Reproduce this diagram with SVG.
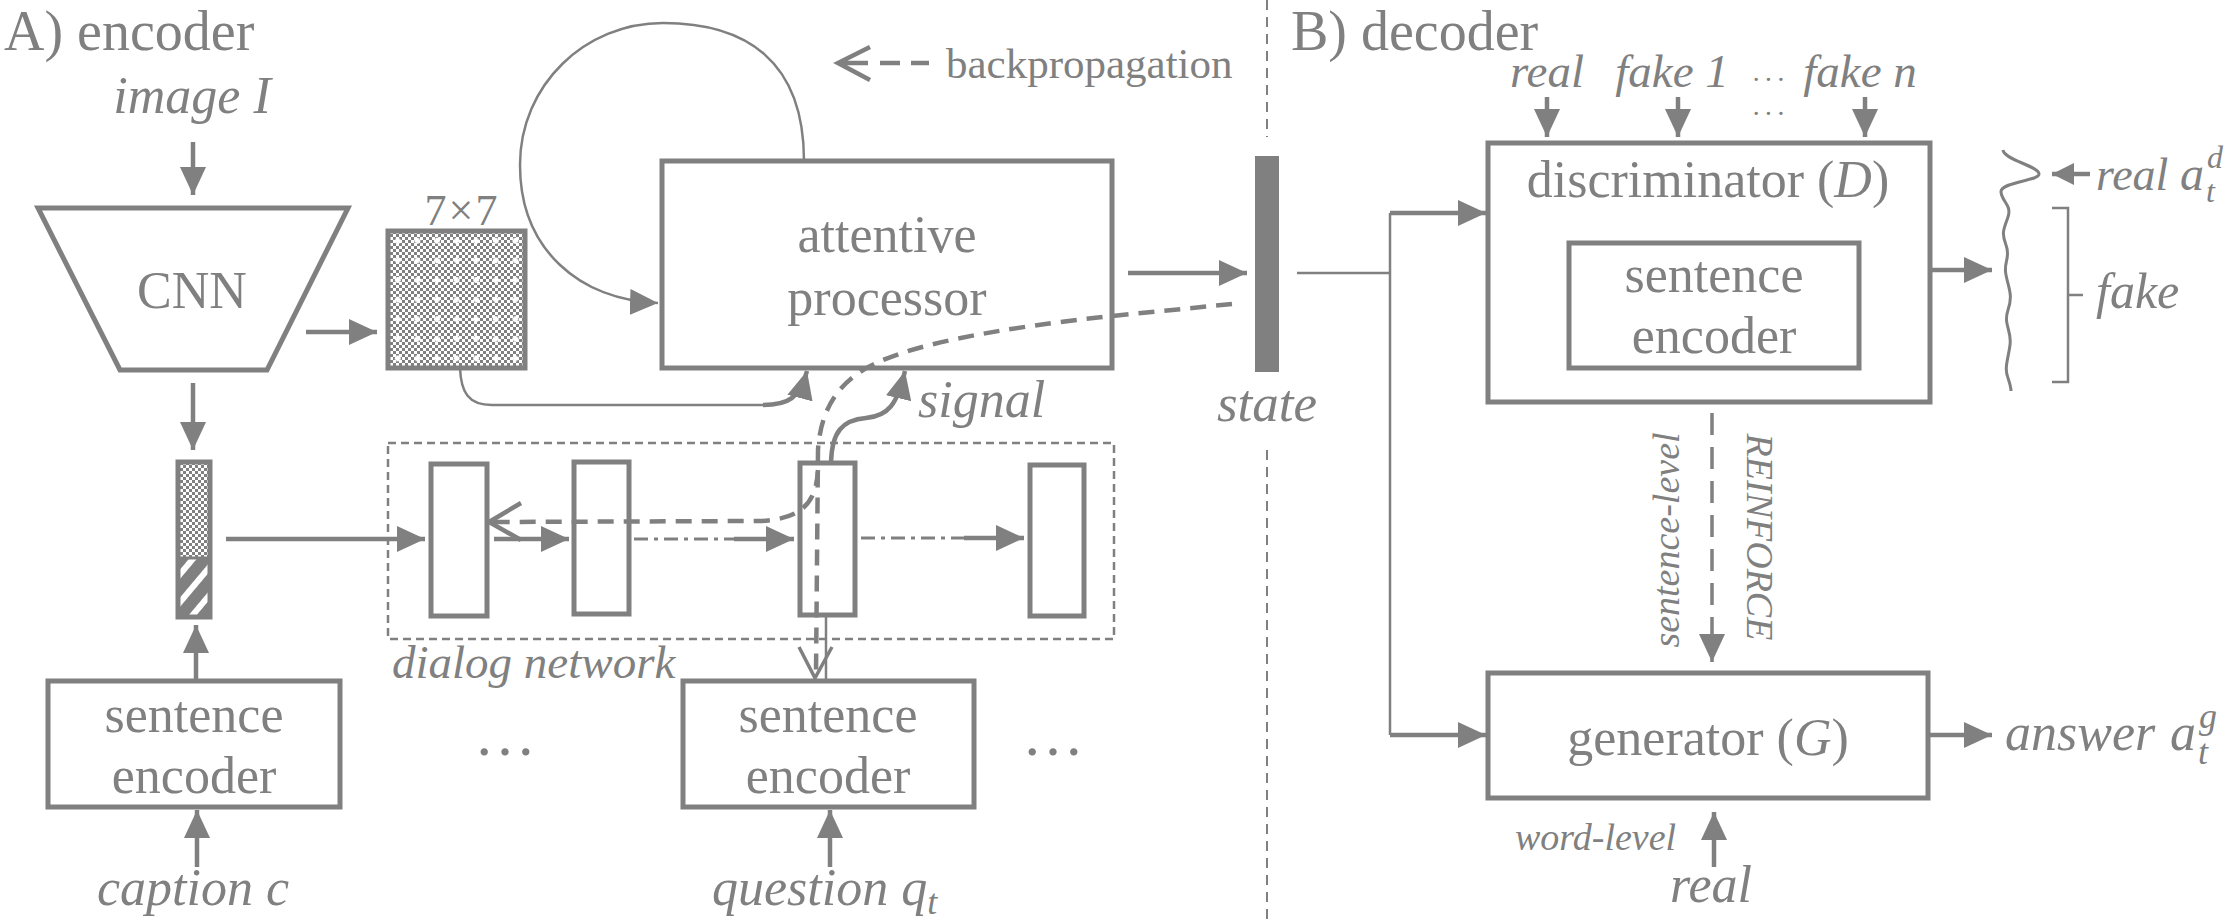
<svg xmlns="http://www.w3.org/2000/svg" width="2236" height="922" viewBox="0 0 2236 922">
<style>
.t{font-family:"Liberation Serif","Times New Roman",serif;fill:#808080}
.i{font-style:italic}
.c{text-anchor:middle}
.box{fill:#fff;stroke:#808080;stroke-width:5}
.ln{fill:none;stroke:#808080;stroke-width:4.5}
.th{fill:none;stroke:#808080;stroke-width:2.5}
.bp{fill:none;stroke:#808080;stroke-width:4.5;stroke-dasharray:16 10}
.dd{fill:none;stroke:#808080;stroke-width:3;stroke-dasharray:14 6 4 6}
.dv{fill:none;stroke:#808080;stroke-width:2;stroke-dasharray:10 7}
</style>
<defs>
<marker id="ah" viewBox="0 0 28 26" refX="28" refY="13" markerWidth="28" markerHeight="26" markerUnits="userSpaceOnUse" orient="auto"><path d="M0,0L28,13L0,26z" fill="#808080"/></marker>
<marker id="ahs" viewBox="0 0 22 22" refX="22" refY="11" markerWidth="22" markerHeight="22" markerUnits="userSpaceOnUse" orient="auto"><path d="M0,0L22,11L0,22z" fill="#808080"/></marker>
<pattern id="chk" width="6" height="6" patternUnits="userSpaceOnUse"><rect width="6" height="6" fill="#fff"/><rect width="3" height="3" fill="#808080"/><rect x="3" y="3" width="3" height="3" fill="#808080"/></pattern>
<pattern id="plus" x="388" y="231" width="19.6" height="19.6" patternUnits="userSpaceOnUse"><path d="M9.8 6.8V12.8M6.8 9.8H12.8" stroke="#fff" stroke-width="3"/></pattern>
<pattern id="strp" width="18" height="18" patternUnits="userSpaceOnUse" patternTransform="rotate(40)"><rect width="18" height="18" fill="#808080"/><rect width="6" height="18" fill="#fff"/></pattern>
</defs>

<g id="titles">
<text class="t" x="4" y="50" font-size="56">A) encoder</text>
<text class="t" x="1291" y="50" font-size="56">B) decoder</text>
</g>

<g id="divider">
<path class="dv" d="M1267 0V137M1267 450V922"/>
</g>

<g id="legend">
<path class="ln" d="M870 47L838 63L870 80M840 63H868M880 63H900M911 63H929"/>
<text class="t" x="946" y="78" font-size="43">backpropagation</text>
</g>

<g id="image-label"><text class="t i c" x="192" y="113" font-size="52">image I</text></g>

<g id="cnn">
<polygon class="box" points="38,208 348,208 267,370 120,370"/>
<text class="t c" x="192" y="308" font-size="52">CNN</text>
</g>

<g id="feature-map">
<rect x="388" y="231" width="137" height="137" fill="url(#chk)"/>
<rect x="388" y="231" width="137" height="137" fill="url(#plus)" stroke="#808080" stroke-width="5"/>
<text class="t c" x="462" y="225" font-size="44" letter-spacing="2">7×7</text>
</g>

<g id="caption-vector">
<rect x="178" y="462" width="32" height="96" fill="url(#chk)"/>
<rect x="178" y="558" width="32" height="59" fill="url(#strp)"/>
<rect x="178" y="462" width="32" height="155" fill="none" stroke="#808080" stroke-width="5"/>
<line x1="178" y1="558" x2="210" y2="558" stroke="#808080" stroke-width="3"/>
</g>

<g id="caption-encoder">
<rect class="box" x="48" y="681" width="292" height="126"/>
<text class="t c" x="194" y="732" font-size="52">sentence</text>
<text class="t c" x="194" y="793" font-size="52">encoder</text>
<text class="t i c" x="193" y="905" font-size="52">caption c</text>
</g>

<g id="attentive-processor">
<rect class="box" x="662" y="161" width="450" height="207"/>
<text class="t c" x="887" y="252" font-size="52">attentive</text>
<text class="t c" x="887" y="315" font-size="52">processor</text>
</g>

<g id="state">
<rect x="1255" y="156" width="24" height="216" fill="#808080"/>
<text class="t i c" x="1267" y="421" font-size="53">state</text>
</g>

<g id="dialog-network">
<rect x="388" y="443" width="726" height="196" fill="none" stroke="#808080" stroke-width="2.5" stroke-dasharray="8 5"/>
<text class="t i" x="392" y="678" font-size="47">dialog network</text>
</g>
<g id="dn1"><rect class="box" x="431" y="464" width="56" height="152"/></g>
<g id="dn2"><rect class="box" x="574" y="462" width="55" height="152"/></g>
<g id="dn3"><rect class="box" x="800" y="463" width="55" height="152"/></g>
<g id="dn4"><rect class="box" x="1030" y="465" width="54" height="151"/></g>

<g id="ellipses">
<text class="t c" x="505" y="755" font-size="62">…</text>
<text class="t c" x="1053" y="755" font-size="62">…</text>
</g>

<g id="question-encoder">
<rect class="box" x="683" y="681" width="291" height="126"/>
<text class="t c" x="828" y="732" font-size="52">sentence</text>
<text class="t c" x="828" y="793" font-size="52">encoder</text>
<text class="t i" x="712" y="905" font-size="52">question q<tspan font-size="36" dy="9">t</tspan></text>
</g>

<g id="signal-label"><text class="t i" x="918" y="417" font-size="52">signal</text></g>

<g id="inputs-top">
<text class="t i c" x="1547" y="87" font-size="47">real</text>
<text class="t i c" x="1672" y="87" font-size="47">fake 1</text>
<text class="t c" x="1770" y="89" font-size="28" letter-spacing="3">···</text>
<text class="t i c" x="1860" y="87" font-size="47">fake n</text>
<text class="t c" x="1770" y="123" font-size="28" letter-spacing="3">···</text>
</g>

<g id="discriminator">
<rect class="box" x="1488" y="143" width="442" height="259"/>
<text class="t c" x="1708" y="197" font-size="52">discriminator (<tspan class="i">D</tspan>)</text>
<rect class="box" x="1569" y="243" width="290" height="125"/>
<text class="t c" x="1714" y="292" font-size="52">sentence</text>
<text class="t c" x="1714" y="353" font-size="52">encoder</text>
</g>

<g id="score">
<path d="M2003 150C2004 160 2039 166 2039 174C2039 181 2000 182 2001 192C2002 202 2012 205 2008 217C2004 229 2001 232 2006 245C2011 258 2003 262 2006 275C2009 290 2013 295 2008 310C2003 325 2012 330 2010 345C2008 360 2004 368 2008 378C2010 384 2011 388 2011 391" fill="none" stroke="#808080" stroke-width="3"/>
<text class="t i" x="2096" y="190" font-size="46">real</text>
<text class="t i" x="2180" y="190" font-size="48">a</text>
<text class="t i" x="2207" y="168" font-size="32">d</text>
<text class="t i" x="2206" y="202" font-size="32">t</text>
<path d="M2052 208H2068V382H2052M2068 295H2083" fill="none" stroke="#808080" stroke-width="2.5"/>
<text class="t i" x="2096" y="308" font-size="50">fake</text>
</g>

<g id="reinforce-labels">
<text class="t i c" transform="translate(1679 540) rotate(-90)" font-size="38">sentence-level</text>
<text class="t i c" transform="translate(1747 537) rotate(90)" font-size="38">REINFORCE</text>
</g>

<g id="generator">
<rect class="box" x="1488" y="673" width="440" height="125"/>
<text class="t c" x="1708" y="755" font-size="52">generator (<tspan class="i">G</tspan>)</text>
<text class="t i" x="2005" y="750" font-size="52">answer</text>
<text class="t i" x="2170" y="750" font-size="52">a</text>
<text class="t i" x="2199" y="728" font-size="36">g</text>
<text class="t i" x="2198" y="764" font-size="36">t</text>
<text class="t i" x="1515" y="850" font-size="38">word-level</text>
<text class="t i c" x="1711" y="902" font-size="52">real</text>
</g>

<g id="connectors">
<path class="ln" d="M193 142V195" marker-end="url(#ah)"/>
<path class="ln" d="M306 332H377" marker-end="url(#ah)"/>
<path class="ln" d="M193 383V450" marker-end="url(#ah)"/>
<path class="ln" d="M196 679V625" marker-end="url(#ah)"/>
<path class="ln" d="M197 867V810" marker-end="url(#ah)"/>
<path class="ln" d="M830 867V810" marker-end="url(#ah)"/>
<path class="th" d="M804 161C804 60 745 23 663 23C585 23 520 85 520 165C520 250 580 300 658 303" marker-end="url(#ah)"/>
<path class="ln" d="M1128 273H1247" marker-end="url(#ah)"/>
<path class="th" d="M460 368C461 392 468 405 492 405H765"/>
<path class="ln" d="M763 405C788 405 800 398 807 371" marker-end="url(#ah)"/>
<path class="ln" d="M831 462C832 432 842 420 866 418C888 416 897 405 905 371" marker-end="url(#ah)"/>
<path class="ln" d="M226 539H425" marker-end="url(#ah)"/>
<path class="ln" d="M494 539H569" marker-end="url(#ah)"/>
<path class="dd" d="M634 539H734"/>
<path class="ln" d="M734 539H794" marker-end="url(#ah)"/>
<path class="dd" d="M861 538H964"/>
<path class="ln" d="M964 538H1024" marker-end="url(#ah)"/>
<path class="th" d="M826 615V681"/>
<path class="bp" d="M1232 304L1112 316C1000 328 900 345 860 372C830 392 820 420 818 450L816 674"/>
<path class="bp" d="M818 470C816 505 800 519 760 521L492 522"/>
<path class="ln" d="M521 503L489 522L521 540"/>
<path fill="none" stroke="#808080" stroke-width="3.5" d="M799 647L815 678L832 647"/>
<path class="th" d="M1297 273H1390M1390 213V735"/>
<path class="ln" d="M1390 213H1486" marker-end="url(#ah)"/>
<path class="ln" d="M1390 735H1486" marker-end="url(#ah)"/>
<path class="ln" d="M1547 97V137" marker-end="url(#ah)"/>
<path class="ln" d="M1678 97V137" marker-end="url(#ah)"/>
<path class="ln" d="M1865 97V137" marker-end="url(#ah)"/>
<path class="ln" d="M1932 270H1992" marker-end="url(#ah)"/>
<path class="ln" d="M2090 174H2052" marker-end="url(#ahs)"/>
<path fill="none" stroke="#808080" stroke-width="3.5" stroke-dasharray="22 12" d="M1712 413V662" marker-end="url(#ah)"/>
<path class="ln" d="M1929 735H1992" marker-end="url(#ah)"/>
<path class="ln" d="M1714 867V812" marker-end="url(#ah)"/>
</g>
</svg>
